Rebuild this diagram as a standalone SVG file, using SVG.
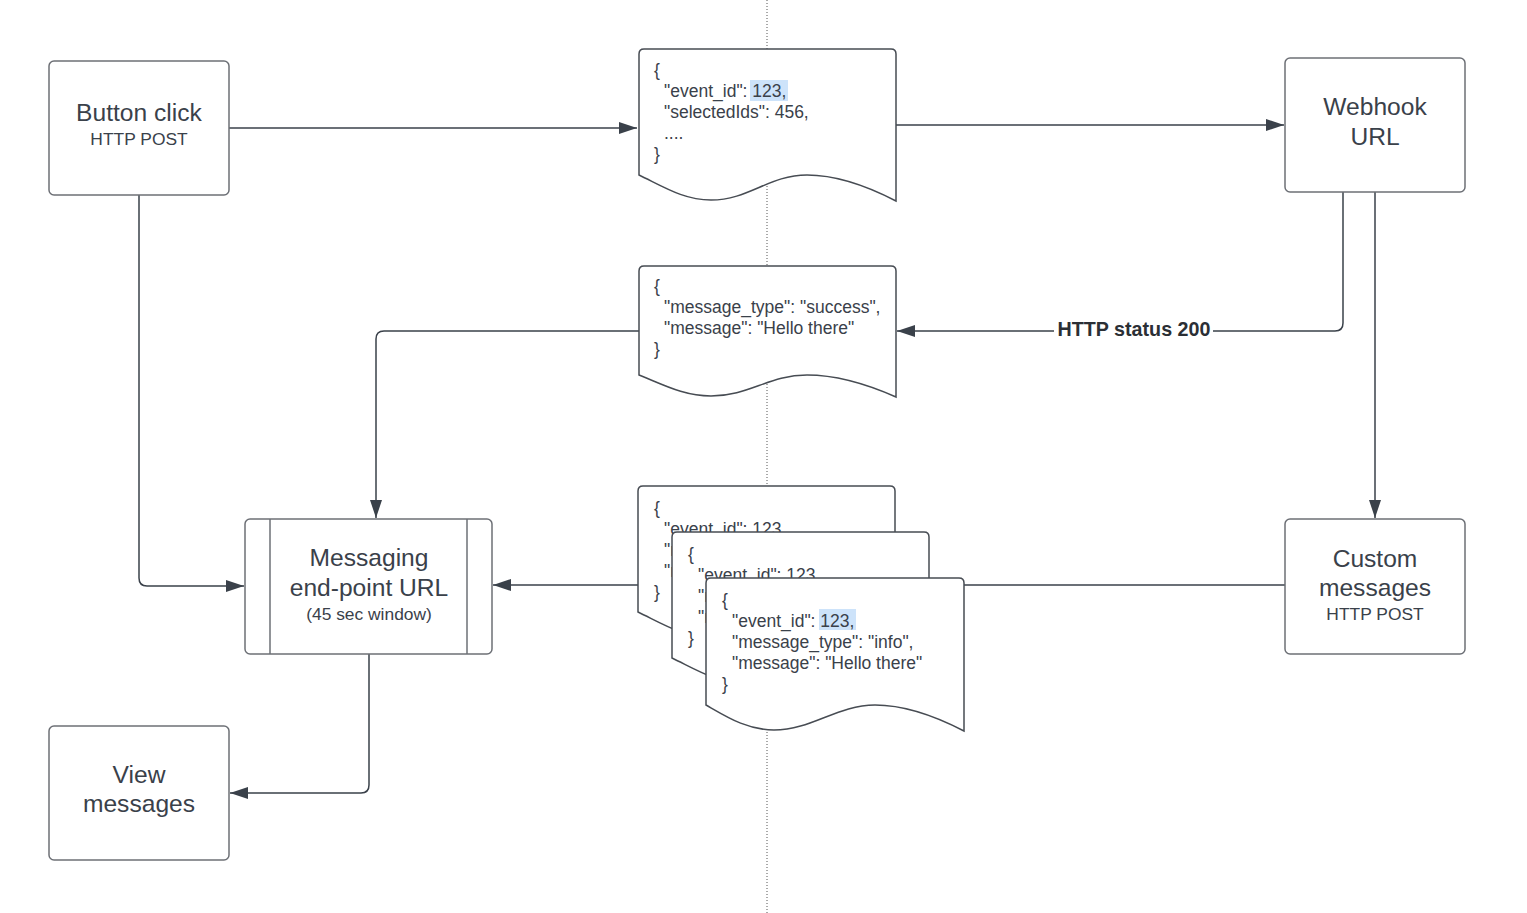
<svg xmlns="http://www.w3.org/2000/svg" width="1527" height="913" viewBox="0 0 1527 913">
<style>
.box{fill:#fff;stroke:#6d7076;stroke-width:1.5}
.doc{fill:#fff;stroke:#474c53;stroke-width:1.5}
.conn{fill:none;stroke:#3a414a;stroke-width:1.5}
.t{font-family:"Liberation Sans",Arial,sans-serif;fill:#3a414a}
.big{font-size:24.6px;text-anchor:middle}
.sub{font-size:17.4px;text-anchor:middle}
.code{font-size:17.5px}
.lbl{font-size:19.7px;font-weight:bold;text-anchor:middle;fill:#2b2f35}
.hl{fill:#cde3fa}
</style>
<defs>
<marker id="arr" viewBox="0 0 18 12" refX="18" refY="6" markerWidth="18" markerHeight="12" markerUnits="userSpaceOnUse" orient="auto">
<path d="M0,0 L18,6 L0,12 Z" fill="#3a414a"/>
</marker>
</defs>
<rect width="1527" height="913" fill="#fff"/>
<line x1="767" y1="0" x2="767" y2="913" stroke="#555" stroke-width="1" stroke-dasharray="1 2"/>
<g id="connectors">
<path class="conn" d="M229,128 H637" marker-end="url(#arr)"/>
<path class="conn" d="M896,125 H1284" marker-end="url(#arr)"/>
<path class="conn" d="M1343,192 V323 Q1343,331 1335,331 H897" marker-end="url(#arr)"/>
<path class="conn" d="M1375,192 V518" marker-end="url(#arr)"/>
<path class="conn" d="M1285,585 H493" marker-end="url(#arr)"/>
<path class="conn" d="M639,331 H384 Q376,331 376,339 V518" marker-end="url(#arr)"/>
<path class="conn" d="M139,195 V578 Q139,586 147,586 H244" marker-end="url(#arr)"/>
<path class="conn" d="M369,654 V785 Q369,793 361,793 H230" marker-end="url(#arr)"/>
<rect x="1054" y="318" width="159" height="24" fill="#fff"/>
<text class="t lbl" x="1134" y="336">HTTP status 200</text>
</g>
<g id="button-click">
<rect class="box" x="49" y="61" width="180" height="134" rx="5"/>
<text class="t big" x="139" y="121">Button click</text>
<text class="t sub" x="139" y="145">HTTP POST</text>
</g>
<g id="webhook-url">
<rect class="box" x="1285" y="58" width="180" height="134" rx="5"/>
<text class="t big" x="1375" y="115">Webhook</text>
<text class="t big" x="1375" y="145">URL</text>
</g>
<g id="custom-messages">
<rect class="box" x="1285" y="519" width="180" height="135" rx="5"/>
<text class="t big" x="1375" y="567">Custom</text>
<text class="t big" x="1375" y="596">messages</text>
<text class="t sub" x="1375" y="620">HTTP POST</text>
</g>
<g id="messaging-endpoint">
<rect class="box" x="245" y="519" width="247" height="135" rx="5"/>
<line x1="270" y1="519" x2="270" y2="654" stroke="#6d7076" stroke-width="1.5"/>
<line x1="467" y1="519" x2="467" y2="654" stroke="#6d7076" stroke-width="1.5"/>
<text class="t big" x="369" y="566">Messaging</text>
<text class="t big" x="369" y="596">end-point URL</text>
<text class="t sub" x="369" y="620">(45 sec window)</text>
</g>
<g id="view-messages">
<rect class="box" x="49" y="726" width="180" height="134" rx="5"/>
<text class="t big" x="139" y="783">View</text>
<text class="t big" x="139" y="812">messages</text>
</g>
<g id="doc-request">
<path class="doc" d="M644,49 H891 Q896,49 896,54 V201 C869,187 839,175 807,175 C769,175 749,200 711,200 C684,200 664,187 639,175 V54 Q639,49 644,49 Z"/>
<rect class="hl" x="750" y="80" width="38" height="21"/>
<text class="t code" x="654" y="76">{</text>
<text class="t code" x="664" y="97">"event_id": 123,</text>
<text class="t code" x="664" y="118">"selectedIds": 456,</text>
<text class="t code" x="664" y="139">....</text>
<text class="t code" x="654" y="160">}</text>
</g>
<g id="doc-response">
<path class="doc" d="M644,266 H891 Q896,266 896,271 V397 C869,385 839,375 807,375 C769,375 749,396 711,396 C684,396 664,385 639,375 V271 Q639,266 644,266 Z"/>
<text class="t code" x="654" y="292">{</text>
<text class="t code" x="664" y="313">"message_type": "success",</text>
<text class="t code" x="664" y="334">"message": "Hello there"</text>
<text class="t code" x="654" y="355">}</text>
</g>
<g id="doc-custom-back">
<path class="doc" d="M643,486 H890 Q895,486 895,491 V638 C868,624 838,612 806,612 C768,612 748,637 710,637 C683,637 663,624 638,612 V491 Q638,486 643,486 Z"/>
<text class="t code" x="654" y="514">{</text>
<text class="t code" x="664" y="535">"event_id": 123,</text>
<text class="t code" x="664" y="556">"message_type": "info",</text>
<text class="t code" x="664" y="577">"message": "Hello there"</text>
<text class="t code" x="654" y="598">}</text>
</g>
<g id="doc-custom-middle">
<path class="doc" d="M677,532 H924 Q929,532 929,537 V684 C902,670 872,658 840,658 C802,658 782,683 744,683 C717,683 697,670 672,658 V537 Q672,532 677,532 Z"/>
<text class="t code" x="688" y="560">{</text>
<text class="t code" x="698" y="581">"event_id": 123,</text>
<text class="t code" x="698" y="602">"message_type": "info",</text>
<text class="t code" x="698" y="623">"message": "Hello there"</text>
<text class="t code" x="688" y="644">}</text>
</g>
<g id="doc-custom-front">
<path class="doc" d="M711,578 H959 Q964,578 964,583 V731 C937,717 907,705 875,705 C837,705 812,730 774,730 C747,730 727,717 706,705 V583 Q706,578 711,578 Z"/>
<rect class="hl" x="819" y="609" width="37" height="21"/>
<text class="t code" x="722" y="606">{</text>
<text class="t code" x="732" y="627">"event_id": 123,</text>
<text class="t code" x="732" y="648">"message_type": "info",</text>
<text class="t code" x="732" y="669">"message": "Hello there"</text>
<text class="t code" x="722" y="690">}</text>
</g>
</svg>
